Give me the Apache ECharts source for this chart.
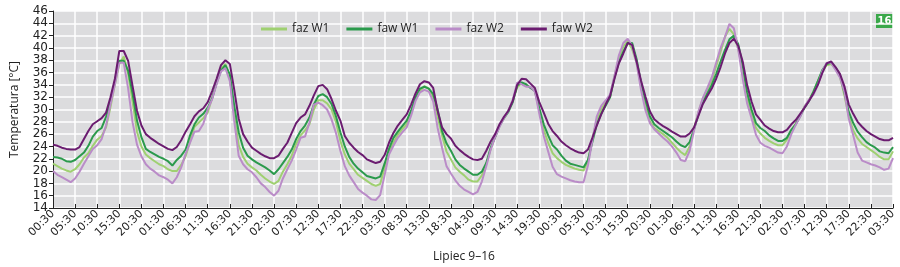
<!DOCTYPE html>
<html>
<head>
<meta charset="utf-8">
<script src="https://cdn.jsdelivr.net/npm/echarts@6/dist/echarts.min.js"></script>
<style>
  html, body { margin: 0; padding: 0; background: #fff; }
  #chart { width: 900px; height: 267px; }
</style>
</head>
<body>
<div id="chart"></div>
<script>
// one label every 5 hourly samples (hours 19:30-23:30 of day 12 are missing)
const tickLabels = ["00:30", "05:30", "10:30", "15:30", "20:30", "01:30", "06:30", "11:30", "16:30", "21:30",
  "02:30", "07:30", "12:30", "17:30", "22:30", "03:30", "08:30", "13:30", "18:30", "04:30",
  "09:30", "14:30", "19:30", "00:30", "05:30", "10:30", "15:30", "20:30", "01:30", "06:30",
  "11:30", "16:30", "21:30", "02:30", "07:30", "12:30", "17:30", "22:30", "03:30"];

const fazW1 = [21.2, 20.8, 20.4, 20.1, 19.9, 20.3, 21.1, 22.2, 22.9, 24.1, 25.1, 25.7, 27.1, 30.4, 34.1, 37.4, 38.6, 35.8, 31.3, 26.4,
  24.0, 22.7, 22.1, 21.6, 21.1, 20.8, 20.3, 20.0, 20.0, 21.0, 22.4, 24.8, 27.2, 27.9, 28.6, 29.5, 31.9, 34.3, 36.6, 37.4,
  35.2, 29.0, 24.2, 22.3, 21.2, 20.6, 20.1, 19.4, 18.8, 18.3, 17.9, 18.4, 19.9, 21.1, 22.5, 24.4, 25.8, 26.6, 27.6, 30.0,
  31.5, 31.5, 31.0, 30.0, 28.0, 24.9, 22.7, 21.2, 20.3, 19.4, 18.9, 18.4, 17.9, 17.6, 17.9, 20.5, 23.0, 24.6, 25.9, 26.8,
  27.6, 29.5, 31.7, 33.0, 33.8, 33.4, 32.0, 28.8, 25.8, 23.2, 21.9, 20.6, 19.9, 19.3, 18.6, 18.3, 18.3, 19.3, 21.1, 23.6,
  25.5, 27.4, 28.6, 29.8, 31.5, 33.6, 34.3, 33.9, 33.6, 33.0, 29.8, 26.7, 24.6, 22.9, 22.1, 21.5, 21.0, 20.7, 20.4, 20.2,
  20.1, 21.6, 25.2, 28.4, 30.0, 31.2, 32.0, 35.4, 38.4, 40.2, 41.1, 39.8, 37.6, 33.8, 30.5, 28.1, 27.0, 26.5, 26.0, 25.4,
  24.6, 23.8, 23.1, 22.6, 24.0, 27.0, 29.6, 31.8, 33.3, 34.7, 37.0, 39.4, 41.8, 43.1, 42.2, 39.8, 36.5, 32.0, 29.2, 27.0,
  26.1, 25.4, 24.9, 24.5, 24.2, 24.2, 25.1, 26.6, 27.7, 29.0, 30.5, 31.5, 32.9, 34.6, 36.2, 37.2, 37.4, 36.6, 35.3, 32.3,
  28.9, 26.6, 25.3, 24.4, 23.9, 23.4, 22.9, 22.3, 21.9, 21.9, 23.2];

const fawW1 = [22.3, 22.2, 22.0, 21.6, 21.5, 21.8, 22.4, 23.0, 24.1, 25.6, 26.5, 27.0, 28.8, 31.4, 34.6, 37.9, 37.9, 36.3, 32.6, 28.2,
  25.5, 23.6, 23.1, 22.7, 22.3, 22.0, 21.6, 20.9, 21.8, 22.5, 23.5, 25.8, 27.6, 28.7, 29.3, 30.3, 31.8, 34.3, 36.3, 37.2,
  35.7, 30.6, 26.3, 23.8, 22.5, 21.9, 21.4, 21.0, 20.6, 20.1, 19.5, 20.3, 21.3, 22.3, 23.5, 25.2, 26.5, 27.4, 28.7, 30.8,
  32.2, 32.5, 32.0, 30.9, 28.9, 26.3, 24.0, 22.3, 21.2, 20.4, 19.8, 19.2, 19.0, 18.8, 19.1, 21.2, 23.6, 25.4, 26.4, 27.3,
  28.2, 29.8, 32.0, 33.4, 33.7, 33.4, 32.5, 30.0, 26.5, 24.5, 23.3, 21.9, 21.0, 20.4, 19.9, 19.4, 19.4, 19.9, 21.3, 23.8,
  25.5, 27.3, 28.6, 29.6, 31.2, 33.9, 34.4, 34.1, 33.5, 33.0, 30.2, 27.6, 25.8, 24.2, 23.5, 22.5, 21.7, 21.2, 21.0, 20.8,
  20.6, 21.8, 24.7, 27.6, 29.3, 30.6, 32.0, 35.2, 37.7, 39.4, 40.8, 40.8, 38.2, 34.3, 31.6, 28.9, 27.6, 27.0, 26.5, 26.0,
  25.5, 24.8, 24.2, 23.9, 24.7, 26.8, 29.2, 31.1, 32.6, 34.0, 35.8, 37.8, 39.7, 41.4, 42.0, 40.6, 37.2, 32.8, 30.0, 27.8,
  27.0, 26.5, 25.8, 25.3, 24.9, 24.9, 25.4, 26.7, 27.6, 28.9, 30.3, 31.4, 32.9, 34.6, 36.4, 37.4, 37.6, 36.8, 35.6, 32.8,
  29.6, 27.8, 26.4, 25.5, 24.7, 24.2, 23.8, 23.2, 23.0, 22.9, 23.9];

const fazW2 = [20.0, 19.4, 19.0, 18.6, 18.2, 18.8, 19.9, 21.2, 22.4, 23.6, 24.2, 25.2, 27.4, 30.8, 34.1, 37.6, 37.6, 33.4, 27.9, 24.3,
  22.4, 21.1, 20.4, 19.9, 19.3, 19.0, 18.6, 18.0, 19.0, 20.6, 22.8, 24.6, 26.4, 26.5, 27.7, 30.0, 31.7, 34.1, 36.2, 36.7,
  34.6, 28.1, 22.5, 21.1, 20.3, 19.8, 19.0, 18.0, 17.4, 16.6, 16.0, 16.8, 18.8, 20.3, 21.7, 23.5, 25.4, 25.6, 27.9, 30.8,
  31.1, 30.7, 30.0, 28.4, 26.2, 23.3, 20.8, 19.3, 18.2, 17.1, 16.5, 16.0, 15.4, 15.3, 16.1, 19.3, 22.7, 24.1, 25.4, 26.3,
  27.1, 29.0, 31.4, 32.8, 33.2, 32.9, 31.3, 27.0, 23.8, 20.8, 19.6, 18.5, 17.6, 17.0, 16.6, 16.2, 16.6, 18.3, 20.8, 23.5,
  25.5, 27.2, 28.6, 29.8, 31.6, 34.4, 34.1, 33.7, 33.7, 32.9, 29.3, 25.7, 23.2, 20.7, 19.5, 19.1, 18.8, 18.5, 18.3, 18.2,
  18.2, 20.9, 25.0, 28.9, 30.6, 31.5, 32.4, 35.5, 38.8, 40.8, 41.5, 40.3, 37.5, 33.2, 29.9, 27.8, 26.8, 26.1, 25.4, 24.8,
  24.0, 23.0, 21.8, 21.6, 23.3, 26.6, 29.7, 31.9, 33.5, 35.2, 37.6, 40.0, 41.8, 43.9, 43.2, 39.7, 35.0, 31.0, 28.6, 25.9,
  24.6, 24.1, 23.8, 23.4, 23.0, 22.9, 24.0, 26.0, 27.5, 28.8, 30.5, 31.6, 32.4, 34.0, 36.2, 37.6, 37.6, 36.4, 35.2, 32.9,
  28.5, 25.8, 23.0, 21.7, 21.4, 21.1, 20.9, 20.6, 20.2, 20.4, 22.1];

const fawW2 = [24.3, 24.1, 23.8, 23.6, 23.5, 23.5, 23.9, 25.2, 26.5, 27.6, 28.1, 28.6, 29.5, 32.0, 35.0, 39.5, 39.5, 37.9, 33.8, 29.8,
  27.4, 26.0, 25.4, 24.9, 24.4, 24.0, 23.6, 23.4, 23.9, 25.0, 26.4, 27.6, 28.9, 29.7, 30.2, 31.2, 33.0, 35.0, 37.2, 38.0,
  37.4, 33.2, 28.5, 26.0, 24.8, 23.8, 23.3, 22.8, 22.4, 22.1, 22.1, 22.5, 23.6, 24.6, 26.2, 27.8, 28.7, 29.2, 30.6, 32.3,
  33.8, 34.0, 33.3, 31.7, 29.8, 28.2, 25.7, 24.6, 23.8, 23.1, 22.6, 21.9, 21.6, 21.3, 21.5, 22.6, 24.6, 26.2, 27.4, 28.3,
  29.2, 30.8, 32.6, 34.1, 34.6, 34.4, 33.5, 29.8, 27.1, 26.0, 25.3, 24.1, 23.4, 22.8, 22.3, 21.9, 21.8, 22.0, 23.3, 24.8,
  26.0, 27.6, 28.8, 29.8, 31.4, 34.0, 35.0, 34.9, 34.2, 33.5, 31.2, 29.5, 27.7, 26.5, 25.7, 24.8, 24.2, 23.7, 23.3, 23.0,
  22.9, 23.5, 25.4, 27.4, 29.2, 30.8, 32.2, 35.0, 37.5, 39.1, 40.8, 40.5, 37.8, 34.7, 32.1, 29.7, 28.4, 27.8, 27.3, 26.9,
  26.4, 26.0, 25.6, 25.6, 26.1, 27.1, 29.0, 30.9, 32.2, 33.4, 35.0, 36.9, 39.1, 40.8, 41.5, 40.3, 37.8, 34.0, 31.3, 29.2,
  28.3, 27.4, 26.9, 26.5, 26.3, 26.3, 26.7, 27.6, 28.3, 29.3, 30.3, 31.4, 32.6, 34.0, 35.9, 37.5, 37.8, 36.9, 35.8, 33.8,
  30.8, 29.3, 28.0, 27.2, 26.5, 26.0, 25.6, 25.2, 25.0, 25.0, 25.4];

const seriesNames = ["faz W1", "faw W1", "faz W2", "faw W2"];
const seriesColors = ["#9fd071", "#2b9a4c", "#ba8cc8", "#6b1c70"];
const seriesData = [fazW1, fawW1, fazW2, fawW2];

const categories = fawW2.map((v, i) => String(i));

const chart = echarts.init(document.getElementById("chart"));

const option = {
  animation: false,
  backgroundColor: "#ffffff",
  grid: {
    left: 53,
    right: 7,
    top: 11,
    bottom: 59,
    outerBoundsMode: "none",
    containLabel: false,
    show: true,
    backgroundColor: "#dcdcde",
    borderWidth: 0
  },
  legend: {
    top: 18,
    left: 256,
    icon: "rect",
    itemWidth: 26,
    itemHeight: 3,
    itemGap: 17,
    textStyle: { fontFamily: "Open Sans", fontSize: 12, color: "#222" },
    data: seriesNames
  },
  xAxis: {
    type: "category",
    data: categories,
    boundaryGap: false,
    name: "Lipiec 9\u201316",
    nameLocation: "middle",
    nameGap: 43,
    nameTextStyle: { fontFamily: "Open Sans", fontSize: 12, color: "#222", padding: [0, 18, 0, 0] },
    axisLine: { lineStyle: { color: "#222", width: 1 } },
    axisTick: { interval: 4, inside: true, length: 4, lineStyle: { color: "#222" } },
    axisLabel: {
      interval: 4,
      rotate: 45,
      margin: 4,
      fontFamily: "DejaVu Sans",
      fontSize: 11,
      color: "#222",
      formatter: (val, idx) => tickLabels[idx / 5]
    },
    splitLine: { show: true, interval: 4, lineStyle: { color: "#ffffff", width: 1.5 } }
  },
  yAxis: {
    type: "value",
    min: 14,
    max: 46,
    interval: 2,
    name: "Temperatura [\u00B0C]",
    nameLocation: "middle",
    nameGap: 32,
    nameTextStyle: { fontFamily: "Open Sans", fontSize: 12, color: "#222" },
    axisLine: { show: true, lineStyle: { color: "#222", width: 1 } },
    axisTick: { show: true, length: 4, lineStyle: { color: "#222" } },
    axisLabel: {
      fontFamily: "DejaVu Sans", fontSize: 12, lineHeight: 10, color: "#222", margin: 5,
      showMinLabel: true, showMaxLabel: true, hideOverlap: false
    },
    splitLine: { lineStyle: { color: "#ffffff", width: 1.5 } }
  },
  graphic: [
    {
      type: "group",
      left: 876,
      top: 14,
      children: [
        { type: "rect", shape: { x: 0, y: 0, width: 17, height: 14 }, style: { fill: "#3aa84a" } },
        {
          type: "text", x: 8.5, y: 7,
          style: { text: "16", fill: "#fff", font: "bold 10px DejaVu Sans", align: "center", verticalAlign: "middle" }
        }
      ]
    }
  ],
  series: seriesNames.map((name, i) => ({
    name: name,
    type: "line",
    data: seriesData[i],
    showSymbol: false,
    smooth: false,
    lineStyle: { color: seriesColors[i], width: 2 },
    itemStyle: { color: seriesColors[i] }
  }))
};

chart.setOption(option);
</script>
</body>
</html>
